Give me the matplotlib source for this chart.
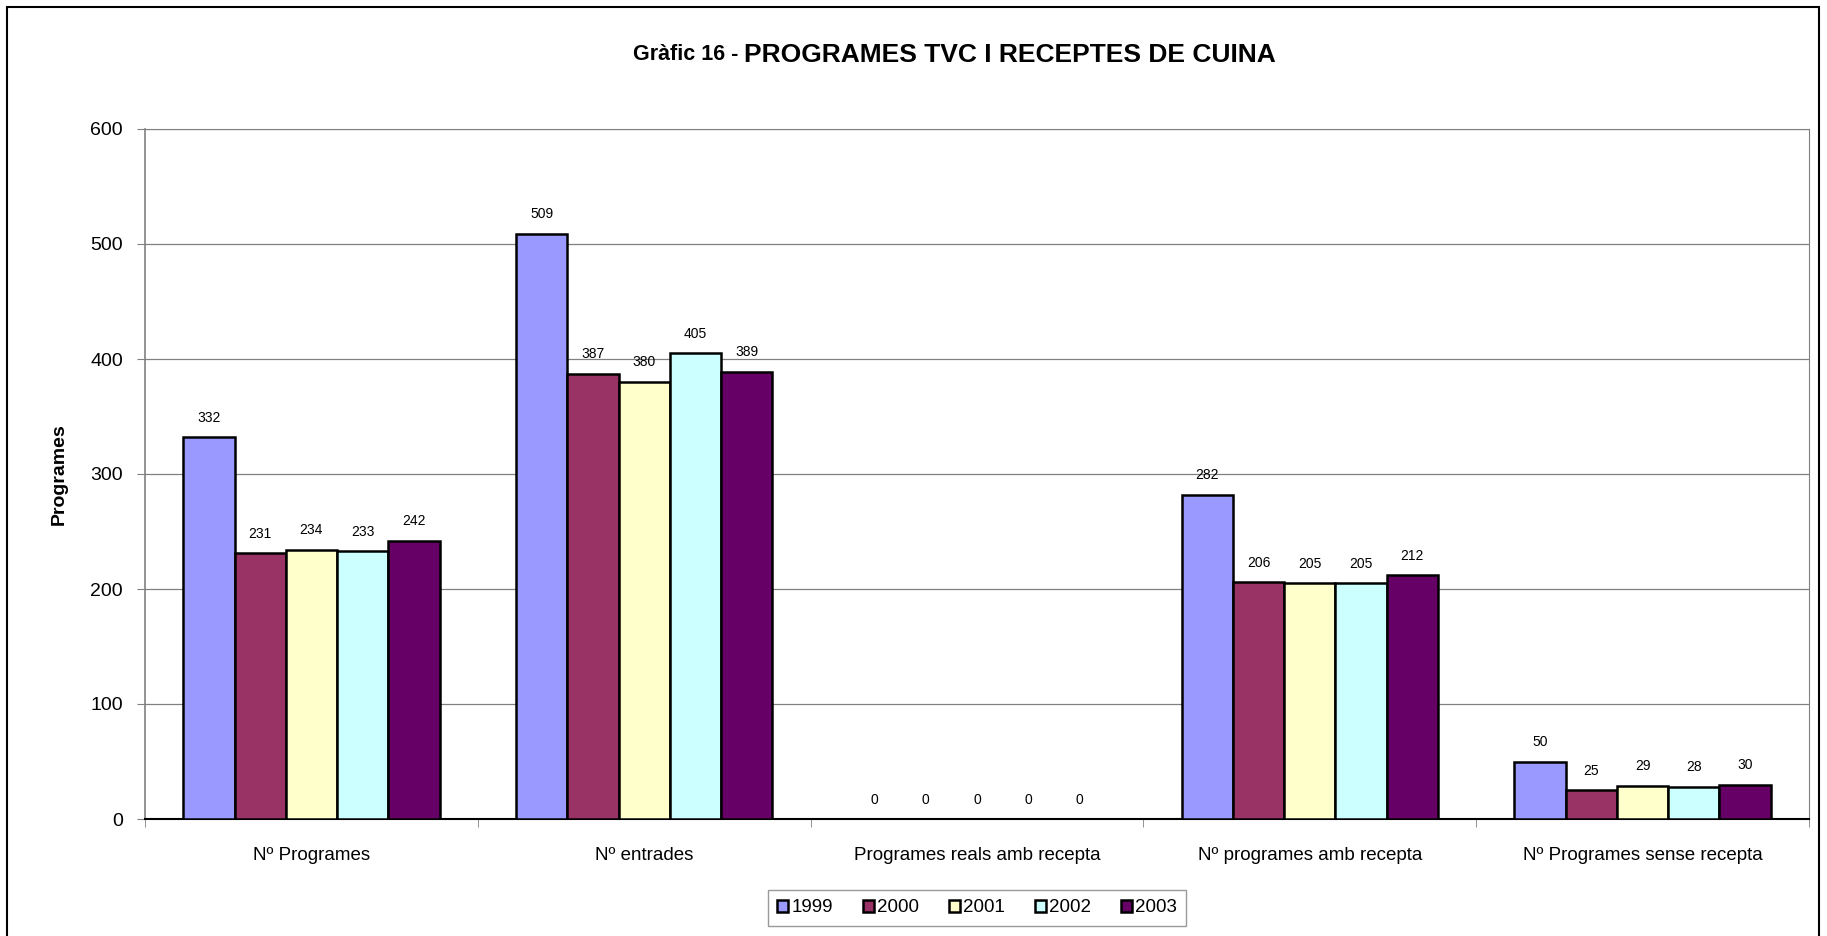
import numpy as np
import matplotlib.pyplot as plt
from matplotlib.patches import Rectangle

plt.rcParams['font.family'] = ['Liberation Sans', 'DejaVu Sans']

categories = ['Nº Programes', 'Nº entrades', 'Programes reals amb recepta',
              'Nº programes amb recepta', 'Nº Programes sense recepta']
years = ['1999', '2000', '2001', '2002', '2003']
v1999 = [332, 509, 0, 282, 50]
v2000 = [231, 387, 0, 206, 25]
v2001 = [234, 380, 0, 205, 29]
v2002 = [233, 405, 0, 205, 28]
v2003 = [242, 389, 0, 212, 30]
series = [v1999, v2000, v2001, v2002, v2003]
colors = ['#9999FF', '#993366', '#FFFFCC', '#CCFFFF', '#660066']

fig = plt.figure(figsize=(18.27, 9.36), dpi=100)
# frame around the whole chart
fig.patches.append(Rectangle((0.004, -0.01), 0.9915, 1.003, transform=fig.transFigure,
                             fill=False, edgecolor='black', linewidth=1.5))

ax = fig.add_axes([145 / 1827, 1 - 819 / 936, (1809 - 145) / 1827, (819 - 129) / 936])

x = np.arange(len(categories))
w = 0.154
for i, (vals, c, yr) in enumerate(zip(series, colors, years)):
    pos = x + (i - 2) * w
    ax.bar(pos, vals, width=w, color=c, edgecolor='black', linewidth=1.8, label=yr, zorder=3)
    for p, v in zip(pos, vals):
        ax.annotate(str(v), (p, v), xytext=(0, 9), textcoords='offset points',
                    ha='center', va='bottom', fontsize=10)

ax.set_xlim(-0.5, 4.5)
ax.set_ylim(0, 600)
ax.set_yticks(range(0, 601, 100))
ax.yaxis.grid(True, color='#808080', linewidth=0.9, zorder=0)
ax.set_xticks(x)
ax.set_xticklabels(categories, fontsize=13.5)
ax.tick_params(axis='x', length=0, pad=20)
ax.set_xticks(np.arange(-0.5, 5, 1), minor=True)
ax.tick_params(axis='x', which='minor', length=6, direction='out', color='#808080')
ax.tick_params(axis='y', labelsize=14, length=6, direction='out', color='#808080', pad=10)

for s in ['top', 'right']:
    ax.spines[s].set_color('#808080')
ax.spines['left'].set_color('#808080')
ax.spines['left'].set_linewidth(1.2)
ax.spines['bottom'].set_color('black')
ax.spines['bottom'].set_linewidth(1.5)

ax.set_ylabel('Programes', fontsize=14, fontweight='bold', labelpad=16)

ty = 1 - 55 / 936
t1 = fig.text(633 / 1827, ty, 'Gràfic 16 - ', fontsize=15.5, fontweight='bold',
              ha='left', va='center')
fig.canvas.draw()
bb = t1.get_window_extent()
fig.text(bb.x1 / 1827, ty, 'PROGRAMES TVC I RECEPTES DE CUINA', fontsize=19,
         fontweight='bold', ha='left', va='center')

leg = fig.legend(loc='center', bbox_to_anchor=(977 / 1827, 1 - 908 / 936), ncol=5,
                 fontsize=13.5, frameon=True, fancybox=False, edgecolor='#808080',
                 handlelength=0.6, handleheight=0.6, handletextpad=0.15,
                 columnspacing=1.6, borderpad=0.5)
leg.get_frame().set_linewidth(1.0)

fig.savefig('out.png', dpi=100)
